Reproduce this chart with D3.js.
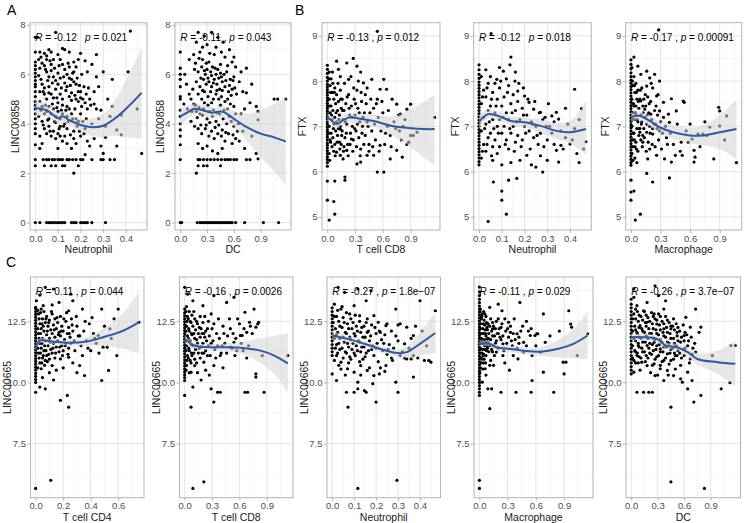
<!DOCTYPE html>
<html><head><meta charset="utf-8">
<script src="https://cdn.jsdelivr.net/npm/d3@7"></script>
<style>
body{margin:0;background:#fff}
svg{display:block}
text{font-family:"Liberation Sans",Arial,Helvetica,sans-serif}
</style>
</head><body>
<svg id="chart" width="745" height="523"></svg>
<script>
// ---------------- DATA ----------------
const xLabels = ["Neutrophil","DC","T cell CD8","Neutrophil","Macrophage","T cell CD4","T cell CD8","Neutrophil","Macrophage","DC"];
const yLabels = ["LINC00858","LINC00858","FTX","FTX","FTX","LINC00665","LINC00665","LINC00665","LINC00665","LINC00665"];
const statR = ["-0.12","-0.11","-0.13","-0.12","-0.17","0.11","-0.16","-0.27","-0.11","-0.26"];
const statP = ["0.021","0.043","0.012","0.018","0.00091","0.044","0.0026","1.8e\u221207","0.029","3.7e\u221207"];
const statComma = [false,true,true,false,true,true,true,true,true,true];

const ticksNeut = [0,0.1,0.2,0.3,0.4];
const ticks03 = [0,0.3,0.6,0.9];
const ticksCD4 = [0,0.2,0.4,0.6];
const yTicksA = [0,2,4,6,8];
const yTicksB = [5,6,7,8,9];
const yTicksC = [7.5,10,12.5];
const xTickLabelsNeut = ["0.0","0.1","0.2","0.3","0.4"];
const xTickLabels03 = ["0.0","0.3","0.6","0.9"];
const xTickLabelsCD4 = ["0.0","0.2","0.4","0.6"];
const yTickLabelsA = ["0","2","4","6","8"];
const yTickLabelsB = ["5","6","7","8","9"];
const yTickLabelsC = ["7.5","10.0","12.5"];

// ---- Panel A1: Neutrophil vs LINC00858
const a1Zero = [0,2.3,2.55,3.15,3.6,3.8,4.0,4.2,4.4,4.6,4.75,4.9,5.1,5.3,5.5,5.6,5.75,5.9,6.05,6.2,6.35,6.5,6.9,7.5];
const a1Pts = [[0.01,7.5],[0.02,6.9],[0.04,6.85],[0.05,6.75],[0.07,6.9],[0.03,6.45],[0.02,6.25],[0.04,6.35],[0.05,6.1],[0.06,5.9],[0.07,6.4],[0.08,6.6],[0.09,7.7],[0.1,6.05],[0.11,6.6],[0.12,7.05],[0.13,6.2],[0.14,6.0],[0.15,6.3],[0.16,5.8],[0.17,6.1],[0.18,5.6],[0.19,6.6],[0.2,5.3],[0.21,5.0],[0.13,7.0],[0.08,5.9],[0.06,5.5],[0.07,5.2],[0.09,5.4],[0.1,5.6],[0.11,5.2],[0.12,5.0],[0.14,5.5],[0.15,5.1],[0.16,5.25],[0.17,5.7],[0.18,5.0],[0.19,4.9],[0.2,5.05],[0.22,4.85],[0.24,5.0],[0.03,5.6],[0.04,5.2],[0.05,5.0],[0.02,4.9],[0.03,4.7],[0.05,4.5],[0.06,4.7],[0.08,4.6],[0.09,4.3],[0.1,4.5],[0.11,4.2],[0.12,4.4],[0.13,4.0],[0.14,4.3],[0.15,4.6],[0.16,4.4],[0.18,4.2],[0.2,4.4],[0.03,4.1],[0.04,3.8],[0.05,3.6],[0.06,3.9],[0.07,3.5],[0.08,3.7],[0.09,3.4],[0.1,3.6],[0.11,3.5],[0.12,3.3],[0.13,3.5],[0.14,3.8],[0.02,3.5],[0.03,3.2],[0.1,3.0],[0.17,3.7],[0.2,3.5],[0.22,3.8],[0.23,3.3],[0.25,4.0],[0.26,3.4],[0.27,4.6],[0.25,6.4],[0.22,6.55],[0.27,5.9],[0.3,6.1],[0.34,5.8],[0.41,6.1],[0.42,7.75],[0.29,4.55],[0.34,4.7],[0.38,4.35],[0.45,4.6],[0.31,3.9],[0.36,3.75],[0.38,3.55],[0.31,3.45],[0.29,3.1],[0.36,3.1],[0.47,2.8],[0.3,2.8],[0.22,2.75],[0.24,3.1],[0.16,3.0],[0.18,3.2],[0.02,3.0],[0.05,6.6],[0.07,6.15],[0.09,5.75],[0.11,5.85],[0.13,5.65],[0.15,5.85],[0.04,5.45],[0.06,5.25],[0.08,5.05],[0.1,4.85],[0.12,4.75],[0.14,4.7],[0.16,4.95],[0.07,4.4],[0.09,4.05],[0.11,3.9],[0.06,4.2],[0.04,4.4],[0.14,3.2],[0.17,3.4],[0.19,4.1],[0.21,4.1],[0.23,4.6],[0.19,5.3],[0.18,6.3],[0.12,6.4],[0.1,6.8],[0.06,7.0],
[0.035,2.55],[0.05,2.55],[0.06,2.55],[0.075,2.55],[0.085,2.55],[0.1,2.55],[0.11,2.55],[0.12,2.55],[0.14,2.55],[0.15,2.55],[0.165,2.55],[0.18,2.55],[0.2,2.55],[0.21,2.55],[0.29,2.55],[0.3,2.55],[0.35,2.55],[0.07,2.3],[0.12,2.3],[0.13,2.3],[0.17,2.0],
[0.02,0],[0.05,0],[0.06,0],[0.07,0],[0.08,0],[0.09,0],[0.1,0],[0.11,0],[0.12,0],[0.13,0],[0.16,0],[0.17,0],[0.18,0],[0.2,0],[0.21,0],[0.22,0],[0.23,0],[0.25,0],[0.31,0]];
const a1More = [[0.015,6.6],[0.025,5.8],[0.035,5.3],[0.045,6.2],[0.055,5.75],[0.065,6.55],[0.075,5.65],[0.085,6.25],[0.095,5.05],[0.105,6.35],[0.115,5.45],[0.125,5.9],[0.135,5.35],[0.145,6.45],[0.155,5.55],[0.165,6.05],[0.175,5.15],[0.185,5.85],[0.195,5.55],[0.205,6.0],[0.215,5.5],[0.225,5.2],[0.235,5.45],[0.245,4.75],[0.015,4.3],[0.025,4.55],[0.035,3.95],[0.045,4.75],[0.055,4.15],[0.065,3.7],[0.075,4.8],[0.085,4.1],[0.095,4.65],[0.105,3.8],[0.115,4.55],[0.125,3.9],[0.135,4.55],[0.145,4.1],[0.155,3.55],[0.165,4.2],[0.175,4.6],[0.185,3.9],[0.195,3.7],[0.205,4.7],[0.215,3.6],[0.225,4.2],[0.26,5.3],[0.28,5.5],[0.26,4.8],[0.28,4.2],[0.32,5.0],[0.33,4.3],[0.27,6.8],[0.2,6.85],[0.15,6.9],[0.17,6.5],[0.23,6.1],[0.02,5.3],[0.015,5.95],[0.025,6.7],[0.33,2.55],[0.25,2.55],[0.19,2.3],[0.09,2.3],[0.04,2.3]];
const a1Fit = [[0,4.63,4.3,4.97],[0.05,4.55,4.3,4.8],[0.08,4.35,4.12,4.6],[0.1,4.22,4.0,4.45],[0.12,4.3,4.07,4.52],[0.15,4.15,3.92,4.4],[0.2,3.95,3.7,4.2],[0.25,3.86,3.5,4.2],[0.3,3.92,3.45,4.4],[0.35,4.2,3.5,4.9],[0.4,4.6,3.45,5.75],[0.47,5.25,3.4,7.1]];

// ---- Panel A2: DC vs LINC00858
const a2Zero = [0,2.55,3.15,3.5,3.75,4.0,4.3,4.55,5.0,5.1,5.5,5.8,6.0,6.25,6.9];
const a2Pts = [[0.2,7.7],[0.27,7.55],[0.35,7.7],[0.42,7.5],[0.18,7.3],[0.3,7.2],[0.48,7.3],[0.55,7.0],[0.1,6.6],[0.15,6.8],[0.22,6.9],[0.25,6.6],[0.32,6.5],[0.38,6.8],[0.45,6.4],[0.5,6.7],[0.58,6.5],[0.62,6.3],[0.68,6.1],[0.74,6.25],[0.8,5.6],[0.85,4.7],[1.05,5.0],[1.09,5.0],[1.18,5.0],[0.16,6.2],[0.2,6.1],[0.24,6.3],[0.28,6.0],[0.3,6.2],[0.34,6.1],[0.36,6.3],[0.4,6.0],[0.42,6.2],[0.46,5.9],[0.52,6.1],[0.56,5.8],[0.6,5.9],[0.66,5.7],[0.18,5.7],[0.22,5.5],[0.26,5.8],[0.29,5.6],[0.32,5.7],[0.35,5.5],[0.38,5.8],[0.41,5.6],[0.44,5.4],[0.47,5.7],[0.5,5.5],[0.54,5.3],[0.58,5.4],[0.63,5.2],[0.7,5.3],[0.74,5.25],[0.2,5.2],[0.24,5.0],[0.27,5.3],[0.31,5.1],[0.34,5.3],[0.37,5.0],[0.4,5.2],[0.43,5.0],[0.46,5.1],[0.5,4.9],[0.53,5.0],[0.56,4.8],[0.6,4.7],[0.07,5.6],[0.1,5.2],[0.12,5.0],[0.08,4.6],[0.15,4.8],[0.18,4.5],[0.22,4.4],[0.26,4.6],[0.3,4.2],[0.33,4.5],[0.36,4.3],[0.4,4.1],[0.44,4.4],[0.48,4.2],[0.52,4.0],[0.55,4.3],[0.6,3.9],[0.65,4.0],[0.7,3.7],[0.8,3.5],[0.12,4.1],[0.16,3.9],[0.2,3.8],[0.24,3.6],[0.28,3.8],[0.32,3.5],[0.35,3.7],[0.38,3.4],[0.42,3.6],[0.46,3.5],[0.5,3.3],[0.54,3.6],[0.58,3.2],[0.62,3.4],[0.66,3.3],[0.72,3.0],[0.2,3.2],[0.25,3.0],[0.3,3.1],[0.36,2.9],[0.42,2.8],[0.47,3.0],[0.85,2.8],[0.87,4.5],[0.87,4.16],[0.87,2.58],[0.78,4.85],
[0.2,2.55],[0.22,2.55],[0.26,2.55],[0.3,2.55],[0.34,2.55],[0.38,2.55],[0.42,2.55],[0.46,2.55],[0.5,2.55],[0.53,2.55],[0.56,2.55],[0.6,2.55],[0.63,2.55],[0.74,2.55],[0.78,2.55],[0.2,2.3],[0.26,2.3],[0.3,2.3],[0.45,2.3],[0.18,2.0],
[0.015,0],[0.19,0],[0.22,0],[0.24,0],[0.26,0],[0.28,0],[0.3,0],[0.32,0],[0.34,0],[0.36,0],[0.38,0],[0.4,0],[0.42,0],[0.44,0],[0.46,0],[0.48,0],[0.5,0],[0.52,0],[0.54,0],[0.56,0],[0.58,0],[0.62,0],[0.72,0],[0.93,0],[1.1,0]];
const a2More = [[0.17,6.45],[0.21,6.65],[0.23,5.85],[0.25,5.35],[0.27,6.15],[0.29,6.45],[0.31,5.85],[0.33,6.85],[0.35,5.95],[0.37,5.65],[0.39,6.25],[0.41,5.35],[0.43,5.85],[0.45,6.05],[0.47,5.35],[0.49,6.0],[0.51,5.75],[0.53,6.35],[0.55,5.55],[0.57,5.15],[0.59,5.75],[0.61,5.45],[0.17,4.75],[0.19,4.25],[0.21,4.65],[0.23,3.95],[0.25,4.35],[0.27,4.85],[0.29,3.95],[0.31,4.75],[0.33,4.05],[0.35,4.85],[0.37,4.55],[0.39,3.85],[0.41,4.45],[0.43,3.95],[0.45,4.75],[0.47,3.75],[0.49,4.55],[0.51,3.65],[0.53,4.6],[0.57,4.1],[0.59,3.55],[0.62,4.4],[0.64,3.7],[0.68,4.4],[0.72,4.6],[0.25,7.1],[0.4,7.1],[0.46,6.9],[0.14,5.4],[0.13,4.5],[0.05,6.0],[0.04,4.8],[0.6,6.7]];
const a2Fit = [[0,4.3,3.95,4.65],[0.1,4.5,4.25,4.75],[0.15,4.6,4.38,4.82],[0.25,4.55,4.32,4.78],[0.35,4.45,4.22,4.68],[0.45,4.5,4.27,4.73],[0.5,4.45,4.2,4.7],[0.6,4.2,3.88,4.52],[0.75,3.85,3.3,4.4],[0.9,3.6,2.65,4.55],[1.05,3.45,2.1,4.8],[1.18,3.28,1.5,5.05]];

// ---- Panel B1: T cell CD8 vs FTX
const b1Zero = [5.37,5.79,6.12,6.2,6.27,6.33,6.4,6.46,6.52,6.58,6.63,6.7,6.76,6.82,6.88,6.93,6.99,7.05,7.1,7.16,7.22,7.28,7.34,7.4,7.46,7.51,7.57,7.63,7.69,7.75,7.81,7.87,7.93,8.0,8.08,8.17,8.26,8.35];
const b1Pts = [[0.1,8.44],[0.21,8.4],[0.12,8.26],[0.14,8.1],[0.28,8.5],[0.32,8.33],[0.23,8.04],[0.36,8.2],[0.39,7.96],[0.43,7.85],[0.48,8.04],[0.54,7.6],[0.57,7.82],[0.61,8.04],[0.64,7.82],[0.7,7.6],[0.75,7.49],[0.79,7.27],[0.86,7.38],[0.9,7.49],[1.16,7.2],[0.54,9.1],[0.14,6.94],[0.1,6.43],[0.14,6.36],[0.17,6.28],[0.21,6.47],[0.26,6.72],[0.32,6.17],[0.36,6.21],[0.43,6.36],[0.5,6.36],[0.57,6.58],[0.54,5.99],[0.61,5.99],[0.68,6.28],[0.75,6.47],[0.81,6.32],[0.88,6.65],[0.93,6.8],[0.97,6.87],[0.19,5.88],[0.19,5.81],[0.08,5.79],[0.07,5.34],[0.08,5.06],[0.02,4.93],
[0.02,8.2],[0.03,7.9],[0.02,7.6],[0.03,7.3],[0.02,7.0],[0.03,6.7],[0.02,6.4],[0.04,8.05],[0.05,7.75],[0.04,7.45],[0.05,7.15],[0.04,6.85],[0.05,6.55],[0.06,7.95],[0.07,7.6],[0.06,7.35],[0.07,7.05],[0.06,6.75],[0.07,6.45],[0.08,7.85],[0.09,7.5],[0.08,7.2],[0.09,6.9],[0.08,6.6],[0.1,7.7],[0.11,7.35],[0.1,7.1],[0.11,6.8],[0.12,7.55],[0.13,7.25],[0.12,6.95],[0.13,6.65],[0.14,7.8],[0.15,7.4],[0.14,7.0],[0.15,6.6],[0.16,7.6],[0.17,7.15],[0.16,6.9],[0.18,7.35],[0.19,6.75],[0.18,6.55],[0.2,7.5],[0.21,7.05],[0.22,6.6],[0.23,7.7],[0.24,7.25],[0.25,6.85],[0.26,7.45],[0.27,7.0],[0.28,6.7],[0.29,7.6],[0.3,7.25],[0.31,6.9],[0.32,7.8],[0.33,7.4],[0.34,6.75],[0.35,7.1],[0.36,6.5],[0.37,7.55],[0.38,7.0],[0.4,7.3],[0.41,6.8],[0.42,7.5],[0.44,7.0],[0.45,6.6],[0.46,7.3],[0.48,6.9],[0.5,7.4],[0.52,6.7],[0.55,7.2],[0.58,6.9],[0.6,7.3],[0.62,6.6],[0.65,7.0],[0.68,6.8],[0.72,7.1],[0.78,6.9],[0.82,7.0],[0.86,6.6],[0.9,6.8]];
const b1More = [[0.015,8.05],[0.025,7.45],[0.015,6.85],[0.025,6.25],[0.035,7.75],[0.045,7.25],[0.035,6.65],[0.055,8.2],[0.065,6.95],[0.075,7.75],[0.085,6.35],[0.095,7.3],[0.105,6.65],[0.115,7.95],[0.125,7.15],[0.135,6.5],[0.145,7.6],[0.155,6.8],[0.165,7.35],[0.175,6.45],[0.185,7.95],[0.195,7.1],[0.205,6.85],[0.215,7.65],[0.225,6.35],[0.235,7.4],[0.245,6.6],[0.255,8.1],[0.265,7.2],[0.275,6.45],[0.285,7.85],[0.295,6.95],[0.305,7.5],[0.315,6.55],[0.325,7.05],[0.335,8.0],[0.345,7.3],[0.355,6.35],[0.365,7.75],[0.375,6.85],[0.385,7.2],[0.395,6.6],[0.41,7.7],[0.43,7.1],[0.45,6.45],[0.47,7.6],[0.49,6.55],[0.51,7.05],[0.53,7.5],[0.56,6.45],[0.59,7.55],[0.63,6.85],[0.66,7.35],[0.69,6.55],[0.74,6.95],[0.77,7.25],[0.8,6.7],[0.84,7.15]];
const b1Fit = [[0,7.2,7.1,7.3],[0.05,7.12,7.03,7.21],[0.1,7.05,6.95,7.15],[0.18,7.15,7.05,7.25],[0.25,7.2,7.08,7.3],[0.35,7.17,7.06,7.28],[0.5,7.12,6.98,7.26],[0.7,7.01,6.8,7.22],[0.9,6.96,6.55,7.37],[1.05,6.94,6.3,7.55],[1.16,6.94,6.14,7.7]];

// ---- Panel B2: Neutrophil vs FTX
const b2Zero = [6.15,6.22,6.3,6.37,6.44,6.51,6.58,6.65,6.72,6.79,6.86,6.93,7.0,7.07,7.14,7.21,7.28,7.35,7.42,7.49,7.56,7.63,7.7,7.77,7.84,7.91,7.98,8.06,8.15,8.25,8.36];
const b2Pts = [[0.14,8.53],[0.136,8.36],[0.107,8.22],[0.078,8.04],[0.158,8.0],[0.195,7.85],[0.2,7.67],[0.17,7.78],[0.22,7.53],[0.24,7.38],[0.27,7.31],[0.29,7.2],[0.32,7.23],[0.34,7.31],[0.35,7.16],[0.39,7.05],[0.42,7.82],[0.45,7.39],[0.47,6.66],[0.4,6.61],[0.36,6.58],[0.34,6.47],[0.35,6.21],[0.28,5.99],[0.25,6.1],[0.21,6.36],[0.166,5.85],[0.13,5.81],[0.1,5.57],[0.1,5.37],[0.12,5.06],[0.063,5.77],[0.04,4.9],[0.053,9.05],
[0.01,8.1],[0.02,7.8],[0.01,7.5],[0.02,7.2],[0.01,6.9],[0.02,6.6],[0.01,6.3],[0.03,8.25],[0.04,7.95],[0.03,7.65],[0.04,7.35],[0.03,7.05],[0.04,6.75],[0.03,6.45],[0.05,8.1],[0.06,7.75],[0.05,7.45],[0.06,7.15],[0.05,6.85],[0.06,6.55],[0.07,7.95],[0.08,7.6],[0.07,7.3],[0.08,7.0],[0.07,6.7],[0.08,6.4],[0.09,7.85],[0.1,7.45],[0.09,7.15],[0.1,6.85],[0.09,6.55],[0.11,7.65],[0.12,7.3],[0.11,7.0],[0.12,6.7],[0.13,7.9],[0.14,7.5],[0.13,7.15],[0.14,6.85],[0.13,6.5],[0.15,7.7],[0.16,7.35],[0.15,7.0],[0.16,6.65],[0.17,7.55],[0.18,7.15],[0.17,6.8],[0.19,7.4],[0.2,7.0],[0.19,6.7],[0.21,7.25],[0.22,6.9],[0.23,7.1],[0.24,6.75],[0.25,7.0],[0.26,6.6],[0.27,6.85],[0.28,7.15],[0.3,6.7],[0.31,7.0],[0.33,6.6],[0.36,6.9],[0.38,6.75],[0.42,6.95],[0.43,6.4],[0.44,6.2]];
const b2More = [[0.015,7.65],[0.025,6.95],[0.015,6.45],[0.035,7.85],[0.045,7.1],[0.035,6.6],[0.055,7.6],[0.065,6.95],[0.055,6.35],[0.075,7.45],[0.085,6.85],[0.095,8.0],[0.105,7.2],[0.115,6.6],[0.125,7.75],[0.135,6.95],[0.145,7.3],[0.155,6.45],[0.165,7.1],[0.175,7.95],[0.185,6.55],[0.195,7.25],[0.205,6.85],[0.215,7.6],[0.225,6.5],[0.235,7.05],[0.245,7.55],[0.255,6.8],[0.265,7.3],[0.285,6.55],[0.295,7.0],[0.305,7.5],[0.32,6.85],[0.33,7.1],[0.37,6.5],[0.38,7.4],[0.41,6.7],[0.44,7.15],[0.46,6.5],[0.3,6.25],[0.27,6.35],[0.23,6.15],[0.18,6.25],[0.14,6.2],[0.1,6.15],[0.06,6.25],[0.12,8.05],[0.09,8.3],[0.16,8.2]];
const b2Fit = [[0,7.1,6.95,7.25],[0.04,7.27,7.17,7.37],[0.09,7.22,7.12,7.32],[0.14,7.12,7.02,7.22],[0.2,7.09,6.98,7.2],[0.27,7.01,6.87,7.15],[0.34,6.9,6.72,7.08],[0.4,6.87,6.62,7.12],[0.47,6.94,6.38,7.55]];

// ---- Panel B3: Macrophage vs FTX
const b3Zero = [5.37,5.55,5.81,6.14,6.2,6.27,6.34,6.41,6.48,6.55,6.62,6.69,6.76,6.83,6.9,6.97,7.04,7.11,7.18,7.25,7.32,7.39,7.46,7.53,7.6,7.67,7.74,7.81,7.88,7.95,8.02,8.1,8.18,8.27,8.37,8.47];
const b3Pts = [[0.03,8.53],[0.07,8.33],[0.1,8.15],[0.16,8.22],[0.19,8.07],[0.24,8.15],[0.29,8.0],[0.16,7.89],[0.22,7.85],[0.26,7.67],[0.1,7.56],[0.05,7.45],[0.14,7.38],[0.2,7.27],[0.29,7.34],[0.33,7.53],[0.41,7.61],[0.53,7.56],[0.54,7.53],[0.46,7.34],[0.38,7.27],[0.39,7.09],[0.29,6.9],[0.22,6.83],[0.16,6.87],[0.09,6.87],[0.12,6.65],[0.19,6.5],[0.26,6.36],[0.34,6.28],[0.41,6.21],[0.45,6.36],[0.17,6.28],[0.16,5.96],[0.22,5.77],[0.39,5.86],[0.51,6.65],[0.52,6.36],[0.62,6.72],[0.64,6.47],[0.64,6.21],[0.65,6.32],[0.68,6.83],[0.77,6.8],[0.84,6.28],[0.89,7.42],[0.9,7.34],[0.9,7.01],[0.97,7.23],[1.07,6.2],[0.8,6.98],[0.73,6.83],[0.56,6.9],[0.28,9.13],[0.03,5.57],[0.044,4.93],[0.095,5.06],
[0.01,8.3],[0.02,7.9],[0.01,7.6],[0.02,7.3],[0.01,7.0],[0.02,6.7],[0.01,6.4],[0.03,8.1],[0.04,7.75],[0.03,7.45],[0.04,7.15],[0.03,6.85],[0.04,6.55],[0.05,7.95],[0.06,7.6],[0.05,7.25],[0.06,6.95],[0.05,6.65],[0.07,7.8],[0.08,7.4],[0.07,7.1],[0.08,6.8],[0.07,6.45],[0.09,7.6],[0.1,7.25],[0.09,6.95],[0.1,6.7],[0.11,7.85],[0.12,7.45],[0.11,7.1],[0.12,6.8],[0.13,7.6],[0.14,7.2],[0.13,6.95],[0.15,7.45],[0.16,7.05],[0.17,7.65],[0.18,7.3],[0.19,7.0],[0.2,7.55],[0.21,7.15],[0.22,6.95],[0.24,7.35],[0.25,7.05],[0.27,7.25],[0.28,6.7],[0.3,7.1],[0.32,6.85],[0.35,7.0],[0.37,6.6]];
const b3More = [[0.015,8.0],[0.025,7.5],[0.015,7.15],[0.025,6.85],[0.015,6.55],[0.035,7.9],[0.045,7.3],[0.035,6.7],[0.055,7.75],[0.065,7.15],[0.055,6.5],[0.075,7.55],[0.085,6.95],[0.095,7.8],[0.105,7.05],[0.115,6.55],[0.125,7.3],[0.135,6.75],[0.145,7.7],[0.155,6.45],[0.165,7.25],[0.175,6.65],[0.185,7.5],[0.195,6.85],[0.205,7.95],[0.215,6.6],[0.235,7.05],[0.245,6.55],[0.255,7.45],[0.265,6.95],[0.275,7.7],[0.31,6.5],[0.33,7.2],[0.36,6.75],[0.4,6.85],[0.43,6.6],[0.47,7.05],[0.5,6.45],[0.58,6.65],[0.6,7.05],[0.7,6.55],[0.75,7.1],[0.95,6.7],[0.02,6.25],[0.04,6.3],[0.06,6.2]];
const b3Fit = [[0,7.2,7.1,7.3],[0.09,7.23,7.13,7.33],[0.19,7.12,7.0,7.24],[0.29,6.98,6.85,7.11],[0.43,6.87,6.72,7.02],[0.6,6.8,6.63,6.97],[0.73,6.8,6.58,7.02],[0.9,6.87,6.5,7.24],[1.07,6.94,6.28,7.6]];

// ---- Panel C1: T cell CD4 vs LINC00665
const c1Zero = [5.67,9.6,10.0,10.12,10.25,10.37,10.5,10.62,10.74,10.86,10.98,11.1,11.22,11.34,11.46,11.58,11.7,11.82,11.94,12.06,12.18,12.3,12.42,12.54,12.66,12.78,12.9,13.02,13.07];
const c1Pts = [[0.07,13.89],[0.13,13.82],[0.03,13.57],[0.005,13.34],[0.055,13.14],[0.12,13.17],[0.17,13.27],[0.255,13.61],[0.27,13.34],[0.24,12.93],[0.34,13.0],[0.48,13.0],[0.6,13.0],[0.54,12.19],[0.455,11.92],[0.49,11.44],[0.52,11.44],[0.59,11.1],[0.53,10.49],[0.48,10.08],[0.355,10.28],[0.32,10.69],[0.24,11.03],[0.18,10.96],[0.12,10.69],[0.04,10.56],[0.03,9.81],[0.07,9.74],[0.18,9.27],[0.23,9.47],[0.24,8.99],[0.11,6.0],[0.75,12.46],
[0.02,12.8],[0.03,12.4],[0.02,12.0],[0.03,11.6],[0.02,11.2],[0.03,10.8],[0.04,13.0],[0.05,12.6],[0.04,12.2],[0.05,11.8],[0.04,11.4],[0.05,11.0],[0.06,12.9],[0.07,12.45],[0.06,12.1],[0.07,11.7],[0.06,11.3],[0.07,10.9],[0.08,12.7],[0.09,12.3],[0.08,11.95],[0.09,11.5],[0.08,11.1],[0.1,12.55],[0.11,12.15],[0.1,11.8],[0.11,11.35],[0.1,10.95],[0.12,12.8],[0.13,12.35],[0.12,12.0],[0.13,11.6],[0.12,11.2],[0.14,12.6],[0.15,12.2],[0.14,11.85],[0.15,11.45],[0.14,11.0],[0.16,12.45],[0.17,12.05],[0.16,11.7],[0.17,11.25],[0.18,12.7],[0.19,12.3],[0.18,11.9],[0.19,11.5],[0.2,12.1],[0.21,11.75],[0.2,11.3],[0.22,12.5],[0.23,12.0],[0.22,11.6],[0.24,12.25],[0.25,11.85],[0.24,11.4],[0.26,12.6],[0.27,12.1],[0.28,11.7],[0.3,12.3],[0.31,11.9],[0.33,11.5],[0.35,12.1],[0.37,11.7],[0.39,12.4],[0.4,11.3],[0.42,12.0],[0.44,11.6],[0.46,11.2]];
const c1More = [[0.015,12.95],[0.025,12.6],[0.015,12.2],[0.025,11.8],[0.015,11.4],[0.025,11.0],[0.015,10.6],[0.035,12.85],[0.045,12.4],[0.035,12.0],[0.045,11.6],[0.035,11.2],[0.045,10.8],[0.055,12.3],[0.065,11.5],[0.055,11.1],[0.065,10.7],[0.075,12.6],[0.085,12.1],[0.075,11.3],[0.085,10.85],[0.095,12.45],[0.105,11.65],[0.095,11.15],[0.115,12.9],[0.125,11.4],[0.135,12.15],[0.145,11.2],[0.155,12.65],[0.165,11.95],[0.175,11.45],[0.185,12.1],[0.195,11.1],[0.205,12.6],[0.215,11.5],[0.225,12.85],[0.235,11.15],[0.245,12.0],[0.255,11.6],[0.265,12.35],[0.285,11.3],[0.295,12.7],[0.32,11.9],[0.34,11.1],[0.36,12.5],[0.38,11.4],[0.41,12.65],[0.43,11.8],[0.5,12.3],[0.55,11.8],[0.57,12.6],[0.1,10.4],[0.15,10.5],[0.2,10.6],[0.27,10.8],[0.3,10.4],[0.05,10.2],[0.13,10.1]];
const c1Fit = [[0,11.37,11.2,11.55],[0.03,11.71,11.6,11.82],[0.12,11.67,11.57,11.77],[0.24,11.62,11.5,11.74],[0.37,11.67,11.5,11.85],[0.49,11.85,11.5,12.2],[0.62,12.08,11.4,12.75],[0.75,12.46,11.2,13.7]];

// ---- Panel C2: T cell CD8 vs LINC00665
const c2Zero = [9.47,10.08,10.2,10.32,10.44,10.56,10.68,10.8,10.92,11.04,11.16,11.28,11.4,11.52,11.64,11.76,11.88,12.0,12.12,12.24,12.36,12.48,12.6,12.72,12.84,13.0,13.89];
const c2Pts = [[0.035,13.61],[0.09,13.34],[0.2,13.14],[0.32,13.55],[0.46,13.27],[0.54,13.48],[0.66,12.87],[0.71,12.46],[0.68,12.05],[0.61,11.92],[0.54,11.64],[0.5,11.44],[0.55,11.1],[0.39,11.1],[0.32,10.69],[0.21,10.83],[0.11,10.69],[0.07,10.42],[0.09,9.81],[0.29,9.74],[0.39,9.6],[0.36,9.6],[0.32,9.2],[0.07,8.99],[0.09,5.67],[0.21,5.94],[0.66,9.6],[0.76,13.0],[0.78,12.26],[0.8,12.39],[0.81,12.46],[0.85,11.1],[0.78,10.35],[0.78,10.22],[0.87,9.6],[1.13,11.1],[0.69,9.6],[0.63,11.92],
[0.02,13.1],[0.03,12.7],[0.02,12.3],[0.03,11.9],[0.02,11.5],[0.03,11.1],[0.02,10.7],[0.05,12.9],[0.06,12.5],[0.05,12.1],[0.06,11.7],[0.05,11.3],[0.06,10.9],[0.08,12.75],[0.09,12.3],[0.08,11.95],[0.09,11.5],[0.08,11.1],[0.11,12.6],[0.12,12.15],[0.11,11.8],[0.12,11.35],[0.11,10.95],[0.14,12.4],[0.15,12.0],[0.14,11.6],[0.15,11.2],[0.17,12.7],[0.18,12.2],[0.17,11.85],[0.18,11.45],[0.17,11.0],[0.2,12.45],[0.21,12.0],[0.2,11.6],[0.21,11.2],[0.23,12.1],[0.24,11.7],[0.23,11.3],[0.26,12.5],[0.27,11.9],[0.26,11.5],[0.28,11.1],[0.3,12.2],[0.31,11.7],[0.33,11.35],[0.35,12.0],[0.36,11.5],[0.38,11.8],[0.4,11.2],[0.42,12.3],[0.44,11.6],[0.47,11.9],[0.5,12.2],[0.52,11.4],[0.56,11.8],[0.58,12.6],[0.62,11.6],[0.65,12.2],[0.7,11.5],[0.74,12.0]];
const c2More = [[0.015,12.9],[0.025,12.5],[0.015,12.1],[0.025,11.7],[0.015,11.3],[0.025,10.9],[0.015,10.5],[0.04,12.6],[0.045,12.2],[0.04,11.8],[0.045,11.4],[0.04,11.0],[0.07,12.45],[0.075,12.0],[0.07,11.55],[0.075,11.2],[0.07,10.8],[0.1,12.9],[0.1,12.0],[0.1,11.2],[0.13,12.5],[0.13,11.75],[0.13,10.8],[0.16,12.25],[0.16,11.4],[0.19,12.0],[0.19,11.2],[0.22,12.7],[0.22,11.85],[0.25,11.1],[0.25,12.2],[0.29,11.6],[0.29,12.8],[0.32,12.4],[0.34,11.0],[0.37,12.6],[0.41,11.5],[0.43,12.0],[0.46,11.2],[0.49,12.6],[0.53,12.0],[0.57,11.3],[0.6,12.4],[0.64,11.3],[0.68,11.0],[0.72,12.3],[0.05,10.4],[0.14,10.4],[0.23,10.5],[0.27,10.3],[0.18,10.1],[0.42,10.6]];
const c2Fit = [[0,11.78,11.6,11.95],[0.11,11.51,11.4,11.62],[0.25,11.44,11.32,11.56],[0.46,11.44,11.28,11.6],[0.61,11.42,11.2,11.64],[0.83,11.3,10.8,11.8],[0.98,11.1,10.35,11.9],[1.13,10.78,9.6,12.0]];

// ---- Panel C3: Neutrophil vs LINC00665
const c3Zero = [10.35,11.1,11.25,11.4,11.55,11.7,11.85,12.0,12.15,12.3,12.45,12.6,12.75,12.9,13.05];
const c3Pts = [[0.027,13.89],[0.057,13.68],[0.117,13.82],[0.177,13.75],[0.155,13.34],[0.1,13.14],[0.04,13.0],[0.08,12.8],[0.125,12.73],[0.16,12.6],[0.19,12.73],[0.21,12.46],[0.245,12.32],[0.22,12.05],[0.29,13.0],[0.4,13.34],[0.47,12.93],[0.34,12.26],[0.37,11.92],[0.33,11.58],[0.31,11.1],[0.275,10.9],[0.245,10.69],[0.215,10.35],[0.19,10.28],[0.16,10.49],[0.13,10.69],[0.1,10.42],[0.07,10.56],[0.04,10.83],[0.02,10.08],[0.117,10.01],[0.185,9.95],[0.147,9.67],[0.117,9.74],[0.1,9.6],[0.065,9.6],[0.155,9.6],[0.2,9.2],[0.072,8.99],[0.29,10.01],[0.3,9.6],[0.37,10.22],[0.42,10.9],[0.45,10.83],[0.34,10.96],[0.36,10.96],[0.117,5.67],[0.295,6.0],
[0.01,13.2],[0.01,12.7],[0.015,12.2],[0.01,11.8],[0.015,11.4],[0.01,10.9],[0.025,12.95],[0.03,12.5],[0.025,12.05],[0.03,11.6],[0.025,11.2],[0.03,10.7],[0.045,13.1],[0.05,12.65],[0.045,12.25],[0.05,11.85],[0.045,11.4],[0.05,11.0],[0.065,12.85],[0.07,12.4],[0.065,12.0],[0.07,11.6],[0.065,11.2],[0.075,10.8],[0.085,12.6],[0.09,12.2],[0.085,11.75],[0.09,11.35],[0.085,10.95],[0.105,12.75],[0.11,12.3],[0.105,11.9],[0.11,11.5],[0.105,11.1],[0.125,12.5],[0.13,12.05],[0.125,11.65],[0.13,11.25],[0.125,10.85],[0.145,12.3],[0.15,11.85],[0.145,11.45],[0.15,11.05],[0.165,12.1],[0.17,11.7],[0.165,11.3],[0.18,12.35],[0.185,11.5],[0.19,11.1],[0.2,12.0],[0.205,11.6],[0.21,10.85],[0.225,11.75],[0.23,11.3],[0.24,11.95],[0.25,11.15],[0.26,11.55],[0.27,12.1],[0.28,11.4],[0.3,11.7],[0.31,12.4],[0.33,11.0],[0.35,11.4],[0.37,11.1],[0.39,11.0],[0.41,12.1],[0.44,10.9]];
const c3More = [[0.005,12.45],[0.02,12.7],[0.035,12.3],[0.02,11.95],[0.035,11.8],[0.02,11.55],[0.035,11.35],[0.02,11.1],[0.04,10.55],[0.055,12.45],[0.06,12.05],[0.055,11.65],[0.06,11.25],[0.075,12.2],[0.08,11.85],[0.075,11.45],[0.08,11.05],[0.095,12.45],[0.1,12.0],[0.095,11.6],[0.1,11.2],[0.115,12.1],[0.12,11.7],[0.115,11.3],[0.135,12.25],[0.14,11.85],[0.135,11.45],[0.14,10.95],[0.155,12.45],[0.16,12.05],[0.155,11.2],[0.175,11.9],[0.18,11.35],[0.195,12.25],[0.2,11.4],[0.215,12.1],[0.22,10.6],[0.235,11.6],[0.25,12.4],[0.255,11.35],[0.27,11.0],[0.29,11.9],[0.3,12.35],[0.32,11.25],[0.36,11.8],[0.38,12.3],[0.43,11.5],[0.17,10.6],[0.06,10.3],[0.13,10.3],[0.24,10.45]];
const c3Fit = [[0,11.92,11.75,12.1],[0.07,11.78,11.65,11.9],[0.147,11.58,11.48,11.68],[0.22,11.37,11.25,11.5],[0.297,11.2,11.05,11.35],[0.34,11.24,11.0,11.48],[0.4,11.58,11.1,12.06],[0.47,12.02,11.2,12.85]];

// ---- Panel C4: Macrophage vs LINC00665
const c4Zero = [5.67,6.0,9.47,9.6,9.74,9.87,10.0,10.12,10.24,10.36,10.48,10.6,10.72,10.84,10.96,11.08,11.2,11.32,11.44,11.56,11.68,11.8,11.92,12.04,12.16,12.28,12.4,12.52,12.64,12.76,12.88,13.0,13.12,13.26,13.4,13.55,13.7,13.9];
const c4Pts = [[0.2,13.2],[0.24,12.93],[0.43,13.27],[0.31,12.46],[0.33,12.05],[0.4,11.99],[0.42,11.85],[0.47,11.64],[0.25,11.58],[0.18,11.24],[0.25,11.1],[0.36,11.1],[0.41,10.96],[0.47,11.24],[0.5,12.5],[0.54,11.92],[0.59,11.92],[0.61,11.99],[0.62,11.99],[0.56,11.1],[0.65,11.24],[0.68,10.42],[0.56,10.08],[0.68,12.8],[0.7,11.64],[0.89,10.83],[0.92,10.83],[0.9,10.35],[0.95,12.93],[0.97,12.39],[0.98,12.26],[1.04,11.1],[1.15,11.99],[0.23,9.6],[0.39,9.6],[0.55,9.6],[0.79,9.6],[0.11,8.93],[0.13,9.74],[0.058,12.8],[0.11,13.07],[0.09,12.39],[0.14,12.19],[0.08,11.78],[0.04,11.1],[0.06,10.56],[0.09,9.74],[0.03,10.01],
[0.01,13.0],[0.02,12.6],[0.01,12.2],[0.02,11.8],[0.01,11.4],[0.02,11.0],[0.01,10.6],[0.03,12.8],[0.04,12.4],[0.03,12.0],[0.04,11.6],[0.03,11.2],[0.04,10.8],[0.05,12.55],[0.06,12.15],[0.05,11.75],[0.06,11.35],[0.05,10.95],[0.07,12.7],[0.08,12.25],[0.07,11.9],[0.08,11.5],[0.07,11.1],[0.09,12.4],[0.1,12.0],[0.09,11.65],[0.1,11.25],[0.12,12.6],[0.13,12.1],[0.12,11.75],[0.13,11.35],[0.12,10.9],[0.15,12.3],[0.16,11.9],[0.15,11.5],[0.16,11.1],[0.18,12.5],[0.19,12.0],[0.18,11.7],[0.2,11.4],[0.21,12.2],[0.22,11.85],[0.24,12.4],[0.25,11.9],[0.26,11.3],[0.28,12.1],[0.29,11.6],[0.31,11.85],[0.33,12.3],[0.35,11.5],[0.36,12.0],[0.38,11.75],[0.4,11.4],[0.44,12.1],[0.5,11.5],[0.52,12.1]];
const c4More = [[0.005,12.9],[0.015,12.4],[0.005,12.0],[0.015,11.6],[0.005,11.2],[0.015,10.8],[0.005,10.4],[0.025,12.7],[0.035,12.2],[0.025,11.7],[0.035,11.35],[0.025,10.95],[0.035,10.55],[0.045,12.9],[0.055,12.35],[0.045,12.0],[0.055,11.5],[0.045,11.15],[0.065,12.0],[0.075,12.45],[0.065,11.65],[0.075,11.3],[0.065,10.8],[0.085,12.15],[0.095,11.8],[0.085,11.4],[0.11,12.3],[0.11,11.5],[0.11,10.7],[0.14,12.45],[0.14,11.9],[0.14,11.25],[0.17,12.2],[0.17,11.6],[0.2,12.6],[0.2,12.0],[0.23,11.75],[0.23,12.25],[0.27,12.6],[0.3,12.2],[0.34,11.7],[0.37,12.6],[0.42,11.6],[0.46,12.3],[0.55,12.2],[0.6,11.5],[0.75,11.9],[0.85,12.1],[0.07,10.3],[0.15,10.7],[0.27,10.8],[0.32,10.5]];
const c4Fit = [[0,11.58,11.45,11.72],[0.11,11.58,11.48,11.68],[0.18,11.44,11.33,11.55],[0.33,11.37,11.25,11.5],[0.47,11.3,11.15,11.45],[0.65,11.26,11.08,11.44],[0.83,11.37,11.02,11.72],[1.0,11.58,10.98,12.18],[1.15,11.92,10.95,12.9]];

// ---- Panel C5: DC vs LINC00665
const c5Zero = [10.35,10.5,10.65,10.8,10.95,11.1,11.25,11.4,11.55,11.7,11.85,12.0,12.15,12.3,12.45,12.6,12.75,12.9,13.05,13.2,13.4];
const c5Pts = [[0.03,13.82],[0.03,13.48],[0.065,13.14],[0.18,13.27],[0.27,13.95],[0.31,13.55],[0.39,13.34],[0.14,12.93],[0.26,12.8],[0.37,13.0],[0.48,12.6],[0.62,12.66],[0.73,13.0],[0.67,12.26],[0.77,12.05],[0.79,12.26],[0.6,11.92],[0.52,12.05],[0.45,12.19],[0.37,12.19],[0.29,12.39],[0.18,12.46],[0.1,12.32],[0.065,12.05],[0.08,11.51],[0.18,11.51],[0.26,11.64],[0.33,11.37],[0.41,11.17],[0.5,11.1],[0.6,11.1],[0.67,10.96],[0.73,11.24],[0.64,10.42],[0.56,10.15],[0.48,10.28],[0.41,10.49],[0.33,10.56],[0.26,10.76],[0.18,10.69],[0.12,10.83],[0.065,11.1],[0.03,10.42],[0.27,10.28],[0.37,10.08],[0.58,10.01],[0.69,10.08],[0.64,9.74],[0.71,9.2],[0.79,9.47],[0.45,8.99],[0.065,9.6],[0.14,9.6],[0.2,9.6],[0.24,9.6],[1.02,9.74],[1.12,9.99],[0.92,11.1],[1.13,11.51],[1.18,11.51],[0.45,5.94],[0.83,5.67],
[0.03,12.8],[0.04,12.3],[0.03,11.8],[0.04,11.3],[0.03,10.9],[0.07,12.9],[0.08,12.5],[0.07,12.0],[0.08,11.6],[0.07,11.2],[0.08,10.8],[0.11,12.7],[0.12,12.2],[0.11,11.8],[0.12,11.4],[0.11,11.0],[0.15,12.9],[0.16,12.45],[0.15,12.05],[0.16,11.65],[0.15,11.25],[0.16,10.85],[0.19,12.65],[0.2,12.2],[0.19,11.8],[0.2,11.4],[0.19,11.0],[0.23,12.85],[0.24,12.4],[0.23,12.0],[0.24,11.55],[0.23,11.15],[0.24,10.7],[0.27,12.6],[0.28,12.15],[0.27,11.75],[0.28,11.35],[0.27,10.95],[0.31,12.8],[0.32,12.35],[0.31,11.95],[0.32,11.55],[0.31,11.1],[0.33,10.7],[0.35,12.5],[0.36,12.05],[0.35,11.65],[0.36,11.25],[0.35,10.85],[0.39,12.7],[0.4,12.25],[0.39,11.85],[0.4,11.45],[0.39,11.0],[0.43,12.45],[0.44,12.0],[0.43,11.6],[0.44,11.2],[0.43,10.75],[0.47,12.3],[0.48,11.8],[0.47,11.4],[0.48,10.95],[0.51,12.4],[0.52,11.9],[0.51,11.5],[0.52,11.1],[0.55,12.1],[0.56,11.65],[0.55,11.2],[0.56,10.7],[0.59,12.35],[0.6,11.7],[0.59,11.35],[0.63,11.95],[0.64,11.5],[0.66,10.8],[0.68,11.85],[0.7,11.4]];
const c5More = [[0.015,12.6],[0.015,12.1],[0.015,11.5],[0.015,11.0],[0.05,13.0],[0.05,12.6],[0.05,12.15],[0.05,11.7],[0.05,11.25],[0.05,10.8],[0.09,12.75],[0.09,12.25],[0.09,11.85],[0.09,11.45],[0.09,11.05],[0.13,12.55],[0.13,12.1],[0.13,11.65],[0.13,11.25],[0.17,12.75],[0.17,12.3],[0.17,11.9],[0.17,11.1],[0.21,12.5],[0.21,12.0],[0.21,11.6],[0.21,11.2],[0.25,12.7],[0.25,12.2],[0.25,11.8],[0.25,11.3],[0.29,12.55],[0.29,12.0],[0.29,11.5],[0.29,11.05],[0.33,12.7],[0.33,12.15],[0.33,11.75],[0.33,11.25],[0.37,12.4],[0.37,11.9],[0.37,11.45],[0.37,10.9],[0.41,12.55],[0.41,12.05],[0.41,11.65],[0.45,12.3],[0.45,11.8],[0.45,11.35],[0.45,10.9],[0.49,12.15],[0.49,11.6],[0.49,11.2],[0.53,12.25],[0.53,11.7],[0.53,11.3],[0.57,11.85],[0.57,11.0],[0.61,12.05],[0.61,11.4],[0.65,11.7],[0.69,11.15],[0.72,11.6],[0.1,10.5],[0.22,10.4],[0.3,10.3],[0.42,10.3],[0.5,10.55]];
const c5Fit = [[0,11.85,11.7,12.0],[0.14,11.85,11.72,11.98],[0.29,11.78,11.63,11.93],[0.39,11.51,11.38,11.65],[0.52,11.44,11.3,11.58],[0.64,11.24,11.05,11.42],[0.75,10.96,10.72,11.2],[0.98,10.83,10.35,11.3],[1.18,10.76,9.85,11.7]];

// ---------------- LAYOUT (positions only) ----------------
const R1 = [22.7, 230], R2 = [277, 497.7];
const panels = [
  {i:0, rect:[30,147,...R1], xDom:[-0.0235,0.4935], yDom:[-0.3,8.09], xt:ticksNeut, xtl:xTickLabelsNeut, yt:yTicksA, ytl:yTickLabelsA, zero:a1Zero, pts:a1Pts.concat(a1More), fit:a1Fit, ytOff:15},
  {i:1, rect:[175,291,...R1], xDom:[-0.059,1.239], yDom:[-0.3,8.09], xt:ticks03, xtl:xTickLabels03, yt:yTicksA, ytl:yTickLabelsA, zero:a2Zero, pts:a2Pts.concat(a2More), fit:a2Fit, ytOff:15},
  {i:2, rect:[322,440,...R1], xDom:[-0.058,1.218], yDom:[4.71,9.29], xt:ticks03, xtl:xTickLabels03, yt:yTicksB, ytl:yTickLabelsB, zero:b1Zero, pts:b1Pts.concat(b1More), fit:b1Fit, ytOff:20},
  {i:3, rect:[473.7,591.3,...R1], xDom:[-0.0235,0.4935], yDom:[4.71,9.29], xt:ticksNeut, xtl:xTickLabelsNeut, yt:yTicksB, ytl:yTickLabelsB, zero:b2Zero, pts:b2Pts.concat(b2More), fit:b2Fit, ytOff:18},
  {i:4, rect:[625.7,741.7,...R1], xDom:[-0.0535,1.1235], yDom:[4.71,9.29], xt:ticks03, xtl:xTickLabels03, yt:yTicksB, ytl:yTickLabelsB, zero:b3Zero, pts:b3Pts.concat(b3More), fit:b3Fit, ytOff:20},
  {i:5, rect:[30.5,144,...R2], xDom:[-0.0375,0.7875], yDom:[5.29,14.31], xt:ticksCD4, xtl:xTickLabelsCD4, yt:yTicksC, ytl:yTickLabelsC, zero:c1Zero, pts:c1Pts.concat(c1More), fit:c1Fit, ytOff:23},
  {i:6, rect:[179.5,293,...R2], xDom:[-0.0565,1.1865], yDom:[5.29,14.31], xt:ticks03, xtl:xTickLabels03, yt:yTicksC, ytl:yTickLabelsC, zero:c2Zero, pts:c2Pts.concat(c2More), fit:c2Fit, ytOff:23},
  {i:7, rect:[327,440.5,...R2], xDom:[-0.0235,0.4935], yDom:[5.29,14.31], xt:ticksNeut, xtl:xTickLabelsNeut, yt:yTicksC, ytl:yTickLabelsC, zero:c3Zero, pts:c3Pts.concat(c3More), fit:c3Fit, ytOff:23},
  {i:8, rect:[474,593,...R2], xDom:[-0.0575,1.2075], yDom:[5.29,14.31], xt:ticks03, xtl:xTickLabels03, yt:yTicksC, ytl:yTickLabelsC, zero:c4Zero, pts:c4Pts.concat(c4More), fit:c4Fit, ytOff:23},
  {i:9, rect:[626,740.5,...R2], xDom:[-0.059,1.239], yDom:[5.29,14.31], xt:ticks03, xtl:xTickLabels03, yt:yTicksC, ytl:yTickLabelsC, zero:c5Zero, pts:c5Pts.concat(c5More), fit:c5Fit, ytOff:23}
];

// ---------------- DRAW ----------------
const svg = d3.select("#chart");
svg.append("rect").attr("width",745).attr("height",523).attr("fill","#fff");

function minors(t, dom){
  const out=[]; const step=t[1]-t[0];
  const cands=[t[0]-step/2, ...t.slice(1).map((v,k)=>(v+t[k])/2), t[t.length-1]+step/2];
  cands.forEach(v=>{ if(v>dom[0] && v<dom[1]) out.push(v); });
  return out;
}

panels.forEach(p=>{
  const [x0,x1,y0,y1]=p.rect;
  const x=d3.scaleLinear().domain(p.xDom).range([x0,x1]);
  const y=d3.scaleLinear().domain(p.yDom).range([y1,y0]);
  const g=svg.append("g");
  const cid="clip"+p.i;
  g.append("clipPath").attr("id",cid).append("rect").attr("x",x0).attr("y",y0).attr("width",x1-x0).attr("height",y1-y0);
  g.append("rect").attr("x",x0).attr("y",y0).attr("width",x1-x0).attr("height",y1-y0).attr("fill","#fff");
  g.selectAll(null).data(minors(p.xt,p.xDom)).join("line")
    .attr("x1",d=>x(d)).attr("x2",d=>x(d)).attr("y1",y0).attr("y2",y1)
    .attr("stroke","#efefef").attr("stroke-width",0.6);
  g.selectAll(null).data(minors(p.yt,p.yDom)).join("line")
    .attr("y1",d=>y(d)).attr("y2",d=>y(d)).attr("x1",x0).attr("x2",x1)
    .attr("stroke","#efefef").attr("stroke-width",0.6);
  g.selectAll(null).data(p.xt).join("line")
    .attr("x1",d=>x(d)).attr("x2",d=>x(d)).attr("y1",y0).attr("y2",y1)
    .attr("stroke","#e2e2e2").attr("stroke-width",0.9);
  g.selectAll(null).data(p.yt).join("line")
    .attr("y1",d=>y(d)).attr("y2",d=>y(d)).attr("x1",x0).attr("x2",x1)
    .attr("stroke","#e2e2e2").attr("stroke-width",0.9);

  const inner=g.append("g").attr("clip-path",`url(#${cid})`);
  const all = p.zero.map(v=>[0,v]).concat(p.pts);
  inner.selectAll(null).data(all).join("circle")
    .attr("cx",d=>x(d[0])).attr("cy",d=>y(d[1])).attr("r",1.6).attr("fill","#000");
  const area=d3.area().x(d=>x(d[0])).y0(d=>y(d[2])).y1(d=>y(d[3])).curve(d3.curveCatmullRom);
  inner.append("path").datum(p.fit).attr("d",area).attr("fill","#d4d4d4").attr("fill-opacity",0.55);
  const line=d3.line().x(d=>x(d[0])).y(d=>y(d[1])).curve(d3.curveCatmullRom);
  inner.append("path").datum(p.fit).attr("d",line).attr("fill","none").attr("stroke","#2b59a6").attr("stroke-width",2);

  g.append("rect").attr("x",x0).attr("y",y0).attr("width",x1-x0).attr("height",y1-y0)
    .attr("fill","none").attr("stroke","#b3b3b3").attr("stroke-width",1);

  const xa=d3.axisBottom(x).tickValues(p.xt).tickFormat((d,k)=>p.xtl[k]).tickSize(3).tickPadding(2);
  const ga=g.append("g").attr("transform",`translate(0,${y1})`).call(xa);
  const ya=d3.axisLeft(y).tickValues(p.yt).tickFormat((d,k)=>p.ytl[k]).tickSize(3).tickPadding(1.5);
  const gy=g.append("g").attr("transform",`translate(${x0},0)`).call(ya);
  [ga,gy].forEach(a=>{
    a.select(".domain").remove();
    a.selectAll(".tick line").attr("stroke","#b3b3b3");
    a.selectAll(".tick text").attr("fill","#4d4d4d").attr("font-size",9.5)
      .attr("font-family",'"Liberation Sans",Arial,sans-serif');
  });

  g.append("text").attr("x",(x0+x1)/2).attr("y",y1+19.5).attr("dy","0.35em")
    .attr("text-anchor","middle").attr("font-size",10.5).attr("fill","#1a1a1a").text(xLabels[p.i]);
  g.append("text").attr("transform",`translate(${x0-p.ytOff},${(y0+y1)/2}) rotate(-90)`).attr("dy","0.35em")
    .attr("text-anchor","middle").attr("font-size",10.5).attr("fill","#1a1a1a").text(yLabels[p.i]);

  const t=g.append("text").attr("x",x(0)).attr("y",y0+14.5).attr("dy","0.35em")
    .attr("font-size",10).attr("fill","#000").style("white-space","pre");
  t.append("tspan").attr("font-style","italic").text("R");
  t.append("tspan").text(" = "+statR[p.i]+(statComma[p.i]?" , ":"   "));
  t.append("tspan").attr("font-style","italic").text("p");
  t.append("tspan").text(" = "+statP[p.i]);
});

[["A",7,14.5],["B",295,14.5],["C",6,267]].forEach(([s,x,y])=>{
  svg.append("text").attr("x",x).attr("y",y).attr("font-size",14).attr("fill","#000").text(s);
});
</script>
</body></html>
